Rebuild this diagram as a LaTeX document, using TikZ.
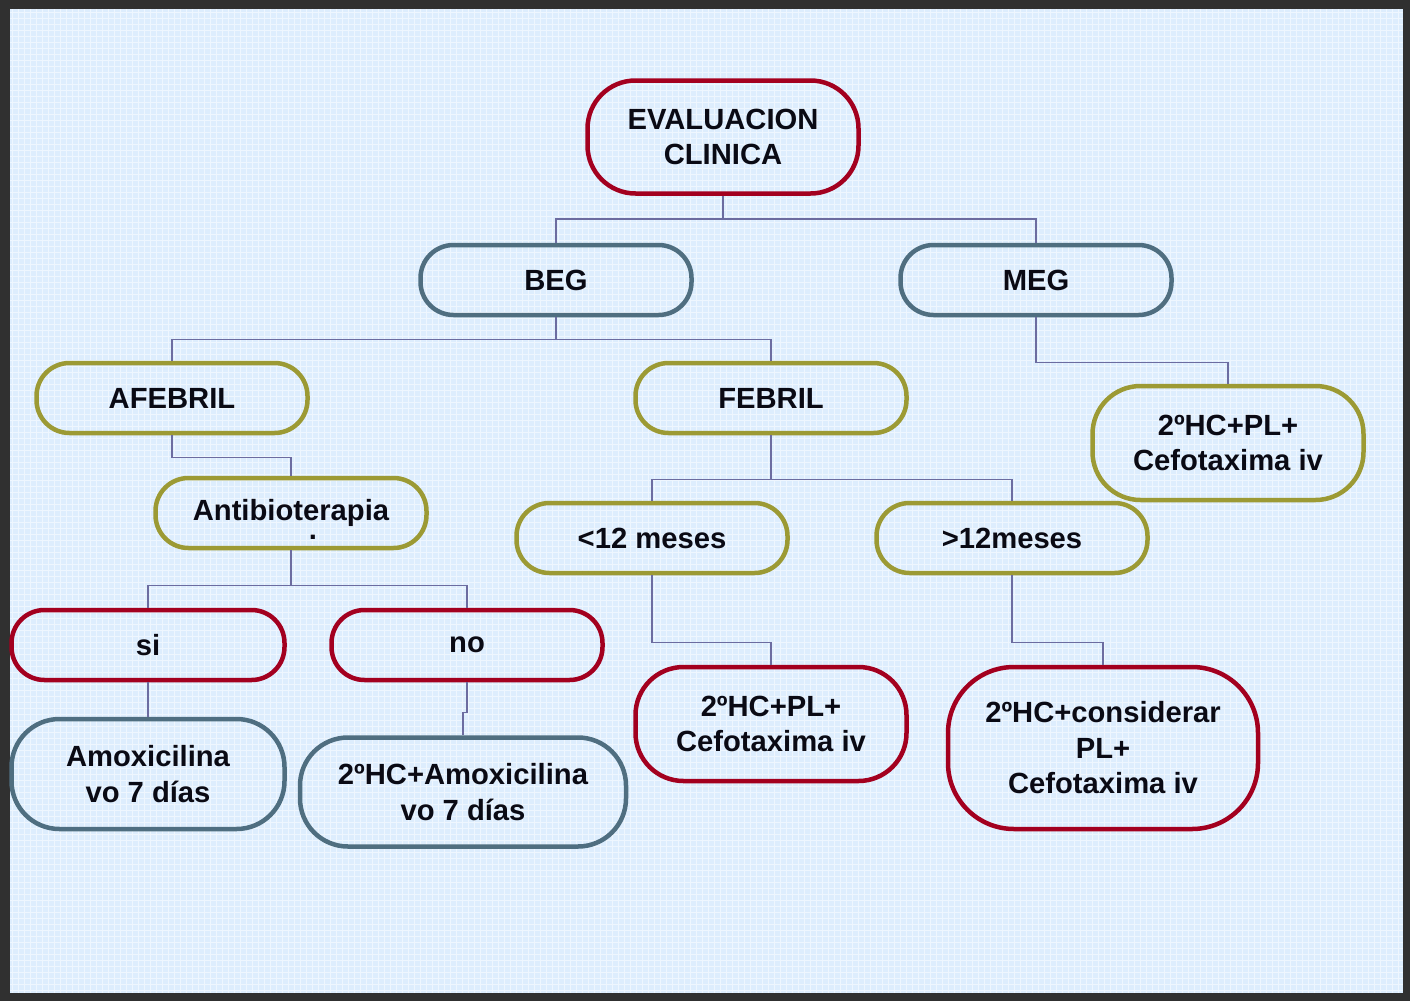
\documentclass[tikz,border=0pt]{standalone}
\usepackage{fontspec}
\setmainfont{Liberation Sans}
\definecolor{frame}{HTML}{303030}
\definecolor{bg}{HTML}{DDEDFD}
\definecolor{cred}{HTML}{A3001F}
\definecolor{cblue}{HTML}{4F6E80}
\definecolor{colive}{HTML}{9C9A34}
\definecolor{cconn}{HTML}{6C6CA0}
\definecolor{txt}{HTML}{0A0A14}
\begin{document}
\begin{tikzpicture}[x=1pt,y=-1pt,
  box/.style={draw, line width=4.5pt, rounded corners=33pt, align=center,
    font=\bfseries\fontsize{29.2}{35.5}\selectfont, text=txt, inner sep=0pt,
    minimum width=271pt, minimum height=70pt},
  redb/.style={box, draw=cred},
  blueb/.style={box, draw=cblue},
  oliveb/.style={box, draw=colive},
  conn/.style={draw=cconn, line width=1.5pt}]
\fill[frame] (0,0) rectangle (1410,1001);
\fill[bg] (10,9) rectangle (1403,993);
\draw[white, opacity=0.5, line width=1pt] (10,993) grid[step=6pt] (1403,9);

\node[redb, minimum height=113pt, rounded corners=48pt] (eval) at (723,137) {EVALUACION\\CLINICA};
\node[blueb] (beg) at (556,280) {BEG};
\node[blueb] (meg) at (1036,280) {MEG};
\node[oliveb] (afeb) at (172,398) {AFEBRIL};
\node[oliveb] (feb) at (771,398) {FEBRIL};
\node[oliveb, minimum height=114pt, rounded corners=48pt] (megr) at (1228,443) {2ºHC+PL+\\Cefotaxima iv};
\node[oliveb] (anti) at (291,513) {Antibioterapia};
\node[anchor=base, font=\bfseries\fontsize{29.2}{35.5}\selectfont, text=txt, inner sep=0pt] (dot) at (313,539) {.};
\node[oliveb] (m12a) at (652,538) {<12 meses};
\node[oliveb] (m12b) at (1012,538) {>12meses};
\node[redb, minimum width=273pt] (si) at (148,645) {si};
\node[redb] (no) at (467,645) {no};
\node[blueb, minimum width=273pt, minimum height=110pt, rounded corners=48pt] (amox1) at (148,774) {Amoxicilina\\vo 7 días};
\node[blueb, minimum width=326pt, minimum height=109pt, rounded corners=48pt] (amox2) at (463,792) {2ºHC+Amoxicilina\\vo 7 días};
\node[redb, minimum height=114pt, rounded corners=48pt] (cefa) at (771,724) {2ºHC+PL+\\Cefotaxima iv};
\node[redb, minimum width=310pt, minimum height=162pt, rounded corners=66pt] (cefb) at (1103,748) {2ºHC+considerar\\PL+\\Cefotaxima iv};

\draw[conn] (eval.south) -- ++(0,23) -| (beg.north);
\draw[conn] (eval.south) -- ++(0,23) -| (meg.north);
\draw[conn] (beg.south) -- ++(0,22) -| (afeb.north);
\draw[conn] (beg.south) -- ++(0,22) -| (feb.north);
\draw[conn] (meg.south) -- ++(0,45) -| (megr.north);
\draw[conn] (afeb.south) -- ++(0,22) -| (anti.north);
\draw[conn] (feb.south) -- ++(0,44) -| (m12a.north);
\draw[conn] (feb.south) -- ++(0,44) -| (m12b.north);
\draw[conn] (anti.south) -- ++(0,35) -| (si.north);
\draw[conn] (anti.south) -- ++(0,35) -| (no.north);
\draw[conn] (m12a.south) -- ++(0,67) -| (cefa.north);
\draw[conn] (m12b.south) -- ++(0,67) -| (cefb.north);
\draw[conn] (si.south) -- (amox1.north);
\draw[conn] (no.south) -- ++(0,30) -| (amox2.north);
\end{tikzpicture}
\end{document}
